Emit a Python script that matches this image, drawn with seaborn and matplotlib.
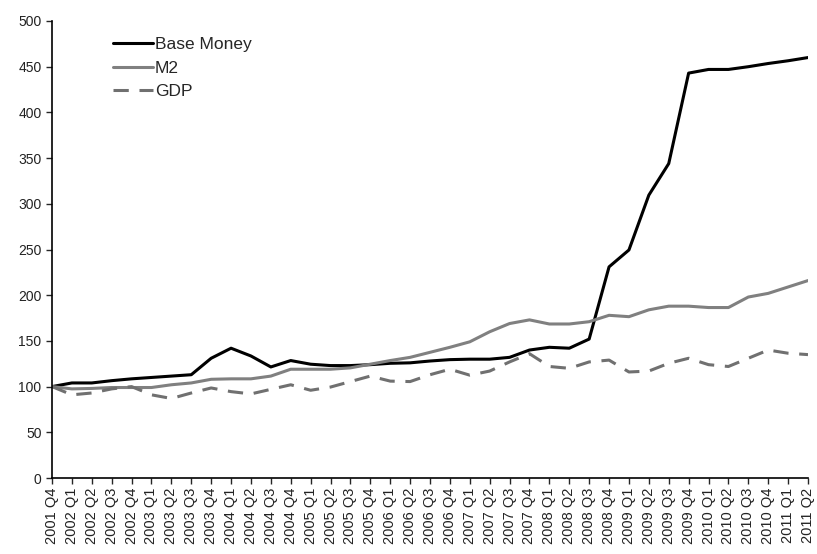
import matplotlib
matplotlib.use("Agg")
import matplotlib.pyplot as plt
import seaborn as sns
import pandas as pd

sns.set_style("ticks")
plt.rcParams['font.family'] = ['Liberation Sans', 'DejaVu Sans']

quarters = ["2001 Q4"]
for yr in range(2002, 2012):
    for q in range(1, 5):
        quarters.append(f"{yr} Q{q}")
quarters = quarters[:39]  # up to 2011 Q2

base_money = [100, 104, 104, 106.5, 108.5, 110, 111.5, 113, 131, 142,
              133.5, 121.5, 128.5, 124.5, 123, 123, 124, 125.5, 126, 128,
              129.5, 130, 130, 132, 140, 143, 142, 152, 231, 249.5,
              309.5, 344, 443, 447, 447, 450, 453.5, 456.5, 460]
m2 = [100, 97.5, 98, 99, 99, 99, 102, 104, 108, 108.5,
      108.5, 111.5, 119, 119, 119, 120.5, 124.5, 128.5, 132, 137.5,
      143, 149, 160, 169, 173, 168.5, 168.5, 171, 178, 176.5,
      184, 188, 188, 186.5, 186.5, 198, 202, 209, 216]
gdp = [100, 91, 93, 97.5, 100, 91, 87, 93, 98.5, 94.5,
       92, 97, 102, 96, 99.5, 105.5, 111.5, 106, 105.5, 113,
       119, 112.5, 117, 127, 136, 122, 120, 127, 129, 116,
       117, 125.5, 131, 124, 122, 131, 140, 136.5, 135]

idx = list(range(len(quarters)))
df = pd.DataFrame({"idx": idx, "Base Money": base_money, "M2": m2, "GDP": gdp})

fig = plt.figure(figsize=(8.17, 5.54), dpi=100)
ax = fig.add_axes([52/817, 76/554, 756/817, 457/554])

sns.lineplot(x="idx", y="Base Money", data=df, ax=ax, color="black", linewidth=2.2, label="Base Money")
sns.lineplot(x="idx", y="M2", data=df, ax=ax, color="#808080", linewidth=2.2, label="M2")
sns.lineplot(x="idx", y="GDP", data=df, ax=ax, color="#707070", linewidth=2.2, label="GDP",
             linestyle=(0, (5, 3.5)))

ax.set_xlim(0, 38)
ax.set_ylim(0, 500)
ax.set_yticks(range(0, 501, 50))
ax.set_xticks(idx)
ax.set_xticklabels(quarters, rotation=90, fontsize=10.5, color="#222222")
ax.tick_params(axis="y", labelsize=10, labelcolor="#222222", length=4, width=1)
ax.tick_params(axis="x", length=4, width=1, pad=3)
ax.set_xlabel("")
ax.set_ylabel("")
for s in ["top", "right"]:
    ax.spines[s].set_visible(False)
for s in ["left", "bottom"]:
    ax.spines[s].set_color("black")
    ax.spines[s].set_linewidth(1.2)

leg = ax.legend(loc="upper left", bbox_to_anchor=(0.06, 1.0), frameon=False,
                fontsize=12.5, handlelength=2.3, handletextpad=0.1, labelspacing=0.5)

fig.savefig("out.png", dpi=100)
